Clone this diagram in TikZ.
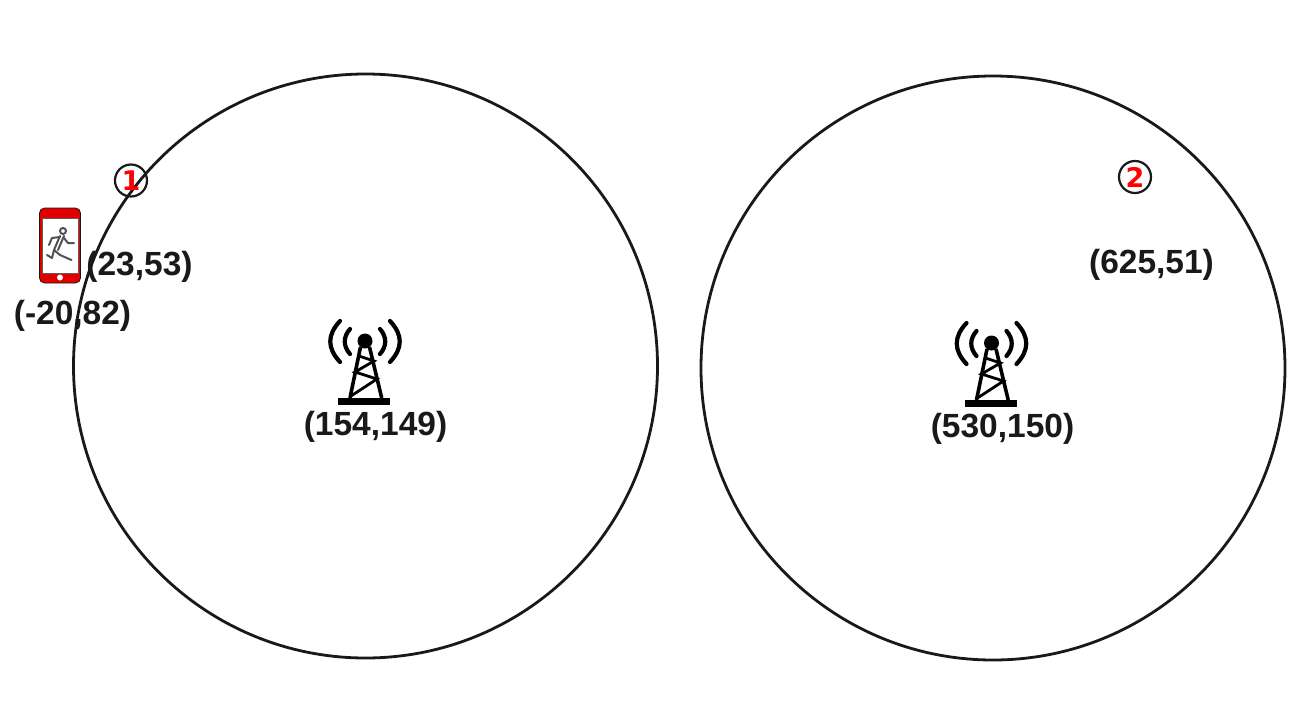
\documentclass[tikz,border=0pt]{standalone}
\usepackage{fontspec}
\setmainfont{Liberation Sans}
\newfontfamily\badgefont{DejaVu Sans}
\definecolor{phonered}{RGB}{224,0,0}
\definecolor{ink}{RGB}{25,25,25}
\tikzset{
  coverage/.style={draw=ink,line width=2.8pt,fill=none},
  coord/.style={inner sep=0pt,text=ink,font=\fontsize{33.5}{38}\selectfont\bfseries},
  badge/.style={circle,draw=ink,line width=2.2pt,minimum size=32pt,inner sep=0pt},
  badgetext/.style={inner sep=0pt,text=red,font=\badgefont\fontsize{27}{30}\selectfont\bfseries},
  towerleg/.style={draw=black,line width=3.6pt},
  towerbrace/.style={draw=black,line width=2.8pt},
  wave/.style={draw=black,line width=4.2pt,line cap=round},
  runner/.style={draw=ink!75,line width=2pt,line cap=round,line join=round},
  pics/tower/.style={code={
    \path[fill=black] (-26.7,56.7) rectangle (25,64);
    \draw[towerleg] (-4.5,6) -- (-15,57);
    \draw[towerleg] (4.5,6) -- (16.7,57);
    \draw[towerbrace] (-6,15) -- (9,20) -- (-10,31) -- (12,38) -- (-14,55);
    \path[fill=black] (0,0) circle (7.5);
    \draw[wave] (-15,-12) .. controls (-22,-4) and (-22,5) .. (-15,13);
    \draw[wave] (15,-12) .. controls (22,-4) and (22,5) .. (15,13);
    \draw[wave] (-25,-20) .. controls (-38,-6) and (-38,7) .. (-25,21);
    \draw[wave] (25,-20) .. controls (38,-6) and (38,7) .. (25,21);
  }}
}
\begin{document}
\begin{tikzpicture}[x=1pt,y=-1pt]
\useasboundingbox (0,0) rectangle (1310,702);
% coordinate labels
\node[coord] (lblue) at (139.5,267) {(23,53)};
\node[coord] (lblpast) at (72.5,316) {(-20,82)};
\node[coord] (lbltowera) at (375.5,427) {(154,149)};
\node[coord] (lbltowerb) at (1002.5,429) {(530,150)};
\node[coord] (lblnext) at (1151.5,265) {(625,51)};
% coverage areas
\node[circle,coverage,minimum size=584pt,inner sep=0pt] (cella) at (365.5,366) {};
\node[circle,coverage,minimum size=584pt,inner sep=0pt] (cellb) at (993,368) {};
% towers
\pic at (365,341) {tower};
\pic at (991.5,343) {tower};
% badges
\node[badge] (bone) at (131,180.5) {};
\node[badgetext] (bonet) at (131,181) {1};
\node[badge] (btwo) at (1135,177) {};
\node[badgetext] (btwot) at (1135,177) {2};
% phone
\path[fill=phonered,draw=ink,line width=0.8pt,rounded corners=5pt] (39.5,208) rectangle (80.5,283);
\path[fill=white,draw=ink!70,line width=0.6pt] (41.8,218) rectangle (78.3,272.8);
\path[fill=white] (60,277.5) circle (3);
% runner
\draw[runner] (63,231) circle (3);
\draw[runner] (60,236) -- (54,250) -- (60,255) -- (71.5,260);
\draw[runner] (64,236) -- (58,250);
\draw[runner] (54,250) -- (52,258) -- (47,255);
\draw[runner] (60,237) -- (52,238) -- (49,245);
\draw[runner] (64,238) -- (68,243) -- (74,243);
\end{tikzpicture}
\end{document}
